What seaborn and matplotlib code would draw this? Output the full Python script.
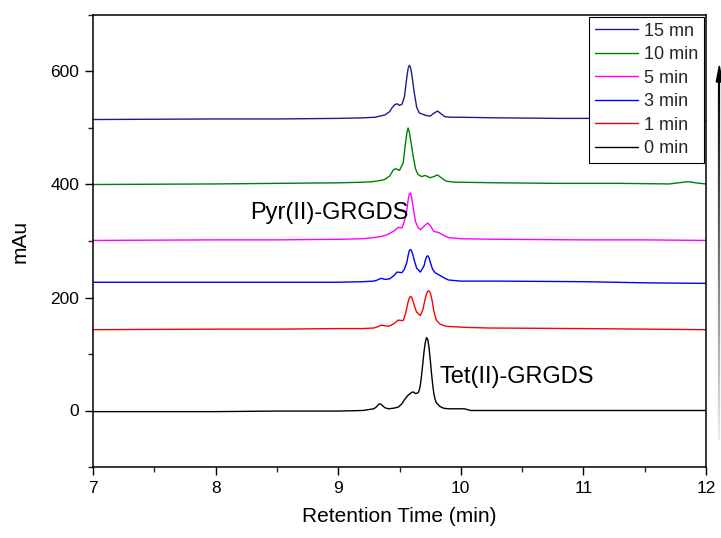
import numpy as np
import pandas as pd
import matplotlib
matplotlib.use("Agg")
import matplotlib.pyplot as plt
from matplotlib.collections import LineCollection
from matplotlib.patches import Polygon
from matplotlib.ticker import MultipleLocator
import seaborn as sns

# ---- data ----
labels = ["15 mn", "10 min", "5 min", "3 min", "1 min", "0 min"]
colors = ["#1c1c8e", "#008000", "#ff00ff", "#0000ff", "#ff0000", "#000000"]

t15 = [7.0, 8.0, 8.5, 9.0, 9.2, 9.30, 9.34, 9.38, 9.42, 9.44, 9.46, 9.48, 9.50, 9.52, 9.54, 9.56,
       9.57, 9.58, 9.59, 9.60, 9.62, 9.64, 9.66, 9.68, 9.72, 9.75, 9.78, 9.81, 9.84, 9.87, 9.92,
       10.0, 10.3, 10.8, 11.2, 11.5, 12.0]
v15 = [515, 516, 516, 517, 518, 519, 521, 523, 529, 536, 541, 543, 540, 542, 555, 590,
       605, 611, 607, 595, 563, 537, 527, 525, 522, 521, 526, 530, 525, 520, 519,
       519, 518, 517, 517, 515, 513]

t10 = [7.0, 8.0, 8.5, 9.0, 9.2, 9.28, 9.34, 9.38, 9.42, 9.45, 9.47, 9.50, 9.53, 9.55, 9.56,
       9.57, 9.58, 9.59, 9.61, 9.63, 9.65, 9.68, 9.71, 9.73, 9.75, 9.78, 9.81, 9.84, 9.88,
       9.95, 10.0, 10.3, 10.8, 11.3, 11.7, 11.85, 11.95, 12.0]
v10 = [400, 401, 402, 403, 404, 405, 407, 409, 415, 426, 428, 425, 438, 475, 491,
       500, 493, 480, 452, 428, 418, 414, 416, 414, 412, 414, 417, 412, 406,
       404, 404, 403, 402, 402, 401, 405, 402, 401]

t5 = [7.0, 8.0, 8.5, 9.0, 9.2, 9.29, 9.35, 9.40, 9.45, 9.49, 9.52, 9.54, 9.56, 9.57, 9.58,
      9.59, 9.60, 9.61, 9.63, 9.65, 9.67, 9.70, 9.73, 9.755, 9.78, 9.82, 9.86, 9.90, 10.0,
      10.3, 11.0, 11.5, 12.0]
v5 = [301, 302, 302, 303, 304, 306, 308, 311, 317, 324, 323, 335, 355, 372, 383,
      385, 376, 361, 335, 324, 320, 326, 332, 326, 317, 315, 310, 306, 304,
      303, 302, 302, 301]

t3 = [7.0, 8.0, 8.5, 9.0, 9.2, 9.29, 9.32, 9.35, 9.38, 9.42, 9.45, 9.48, 9.52, 9.54, 9.56,
      9.57, 9.58, 9.59, 9.60, 9.61, 9.62, 9.64, 9.67, 9.70, 9.71, 9.72, 9.73, 9.74, 9.75,
      9.77, 9.79, 9.83, 9.87, 9.90, 10.0, 10.3, 11.0, 11.5, 12.0]
v3 = [227, 227, 227, 227, 228, 229, 231, 234, 232, 233, 238, 245, 244, 250, 262,
      274, 283, 285, 282, 275, 266, 252, 245, 256, 265, 272, 274, 271, 263,
      250, 244, 239, 234, 231, 229, 229, 228, 226, 225]

t1 = [7.0, 8.0, 8.5, 9.0, 9.2, 9.29, 9.32, 9.35, 9.38, 9.41, 9.45, 9.49, 9.53, 9.55, 9.56,
      9.57, 9.58, 9.59, 9.60, 9.61, 9.62, 9.64, 9.67, 9.69, 9.70, 9.71, 9.72, 9.73, 9.74,
      9.75, 9.76, 9.77, 9.78, 9.80, 9.83, 9.88, 10.05, 10.24, 11.0, 11.5, 12.0]
v1 = [143, 144, 144, 145, 145, 146, 148, 151, 150, 149, 153, 160, 159, 172, 182,
      192, 199, 202, 200, 194, 186, 174, 168, 178, 188, 198, 206, 211, 212,
      209, 201, 190, 176, 160, 153, 149, 147, 146, 145, 144, 143]

t0 = [7.0, 8.0, 8.5, 9.0, 9.2, 9.29, 9.31, 9.33, 9.34, 9.36, 9.38, 9.41, 9.45, 9.49, 9.52,
      9.54, 9.57, 9.60, 9.61, 9.63, 9.65, 9.66, 9.67, 9.68, 9.69, 9.70, 9.71, 9.72, 9.73,
      9.74, 9.75, 9.76, 9.77, 9.78, 9.79, 9.80, 9.83, 9.86, 9.90, 10.03, 10.08, 10.5, 11.0,
      12.0]
v0 = [-2, -2, -1, -1, 0, 3, 6, 11, 12, 9, 5, 3, 4, 6, 12,
      19, 27, 32, 33, 30, 31, 35, 45, 62, 83, 104, 120, 129, 126,
      113, 92, 68, 47, 30, 20, 14, 7, 4, 3, 3, 0, 0, 0,
      0]

series_t = [t15, t10, t5, t3, t1, t0]
series_v = [v15, v10, v5, v3, v1, v0]

x_label = "Retention Time (min)"
y_label = "mAu"
ann_pyr = "Pyr(II)-GRGDS"
ann_tet = "Tet(II)-GRGDS"

# ---- styling ----
sns.set_theme(style="ticks")
plt.rcParams["font.family"] = ["Liberation Sans", "DejaVu Sans"]

fig = plt.figure(figsize=(7.21, 5.38), dpi=100)
ax = fig.add_axes([93 / 721, 1 - 467 / 538, (706 - 93) / 721, (467 - 15) / 538])

for t, v, lab, col in zip(series_t, series_v, labels, colors):
    df = pd.DataFrame({"time": t, "mAu": v})
    sns.lineplot(data=df, x="time", y="mAu", ax=ax, color=col, lw=1.0,
                 label=lab, sort=False, estimator=None)

ax.set_xlim(7, 12)
ax.set_ylim(-100, 700)
ax.xaxis.set_major_locator(MultipleLocator(1))
ax.xaxis.set_minor_locator(MultipleLocator(0.5))
ax.yaxis.set_major_locator(MultipleLocator(200))
ax.yaxis.set_minor_locator(MultipleLocator(100))
ax.tick_params(which="major", direction="out", length=6, width=1, labelsize=12.5,
               colors="black", pad=4)
ax.tick_params(which="minor", direction="out", length=3.5, width=1)
for s in ax.spines.values():
    s.set_visible(True)
    s.set_color("black")
    s.set_linewidth(1.1)

ax.set_xlabel(x_label, fontsize=15, color="black", labelpad=8)
ax.set_ylabel(y_label, fontsize=15, color="black", labelpad=15)

ax.text(8.28, 350, ann_pyr, fontsize=17, va="center", ha="left", color="black")
ax.text(9.83, 60, ann_tet, fontsize=17, va="center", ha="left", color="black")

leg = ax.legend(loc="upper right", bbox_to_anchor=(1.0, 1.0), borderaxespad=0.12,
                fontsize=13, frameon=True, fancybox=False, shadow=False,
                handlelength=2.4, labelspacing=0.36, handletextpad=0.35,
                borderpad=0.3)
leg.get_frame().set_edgecolor("black")
leg.get_frame().set_linewidth(0.8)
leg.get_frame().set_alpha(1)

# gradient arrow at right edge of the figure
W, H = 721, 538
xa = 719.3 / W
ys = np.linspace(1 - 440 / H, 1 - 80 / H, 80)
segs = [[(xa, ys[i]), (xa, ys[i + 1])] for i in range(len(ys) - 1)]
grays = np.linspace(0.92, 0.0, len(segs))
lc = LineCollection(segs, colors=[(g, g, g) for g in grays], linewidths=1.6,
                    transform=fig.transFigure)
fig.add_artist(lc)
head = Polygon([(716.3 / W, 1 - 82 / H), (722.3 / W, 1 - 82 / H), (719.3 / W, 1 - 66 / H)],
               closed=True, color="black", transform=fig.transFigure)
fig.add_artist(head)

fig.savefig("out.png", dpi=100)
